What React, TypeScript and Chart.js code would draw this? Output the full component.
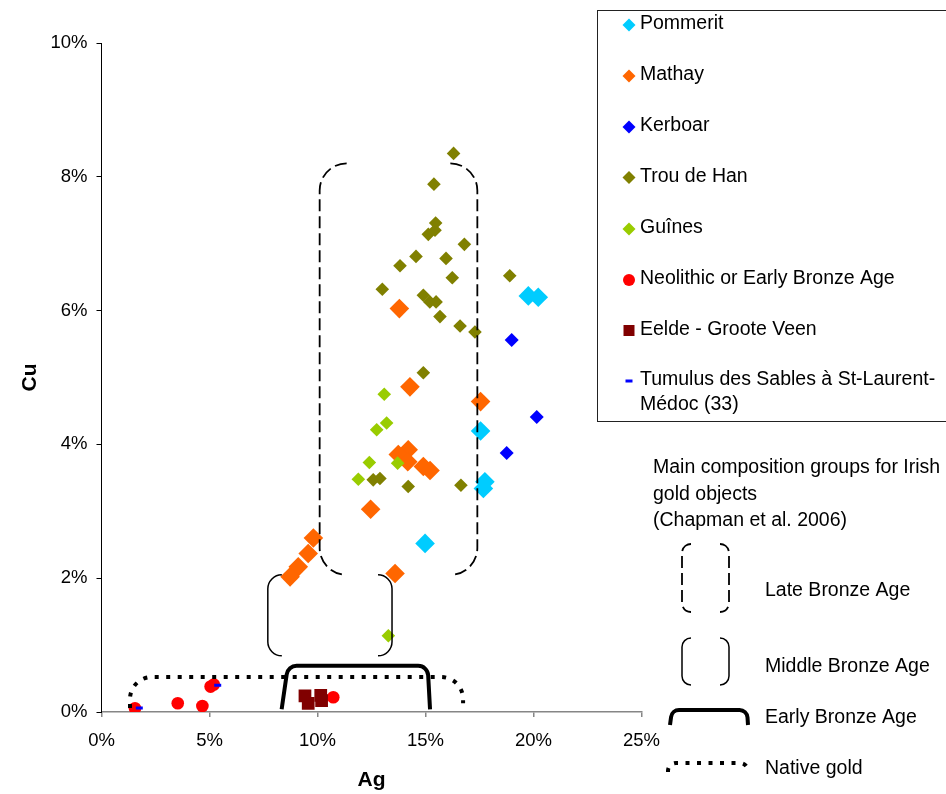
import React, { useEffect, useRef } from "react";
import { Chart, registerables } from "chart.js";

Chart.register(...registerables);

// ---------- data: [Ag %, Cu %] ----------
const pommerit = [[19.76, 6.22], [20.22, 6.2], [17.55, 4.2], [17.75, 3.44], [17.68, 3.34], [14.98, 2.52]];
const mathay = [
  [13.79, 6.03], [14.28, 4.86], [17.55, 4.64], [14.2, 3.92], [13.74, 3.85], [14.18, 3.74], [14.9, 3.67],
  [15.21, 3.61], [12.46, 3.03], [9.81, 2.6], [9.57, 2.37], [9.11, 2.17], [8.73, 2.02], [13.59, 2.07],
];
const kerboar = [[18.99, 5.56], [20.15, 4.41], [18.76, 3.87]];
const trouDeHan = [
  [16.3, 8.35], [15.39, 7.89], [15.47, 7.31], [15.44, 7.2], [15.13, 7.14], [16.8, 6.99], [14.56, 6.81],
  [15.95, 6.78], [13.82, 6.67], [16.24, 6.49], [18.9, 6.52], [13.0, 6.32], [14.9, 6.23], [15.2, 6.13],
  [15.49, 6.13], [15.67, 5.91], [16.6, 5.77], [17.29, 5.68], [14.9, 5.07], [12.58, 3.47], [12.89, 3.49],
  [14.2, 3.37], [16.64, 3.39],
];
const guines = [[13.09, 4.75], [13.2, 4.32], [12.74, 4.22], [12.4, 3.73], [13.71, 3.72], [11.89, 3.48], [13.28, 1.14]];
const neolithic = [[1.55, 0.055], [3.53, 0.13], [4.67, 0.09], [5.2, 0.41], [5.05, 0.38], [10.73, 0.22]];
const eelde = [[9.42, 0.24], [9.57, 0.13], [10.15, 0.25], [10.19, 0.17]];
const tumulus = [[1.75, 0.06], [5.38, 0.4]];

const seriesData = [pommerit, mathay, kerboar, trouDeHan, guines, neolithic, eelde, tumulus];
const seriesNames = [
  "Pommerit",
  "Mathay",
  "Kerboar",
  "Trou de Han",
  "Guînes",
  "Neolithic or Early Bronze Age",
  "Eelde - Groote Veen",
  "Tumulus des Sables à St-Laurent-Médoc (33)",
];
const seriesColors = ["#00CCFF", "#FF6600", "#0000FF", "#808000", "#99CC00", "#FF0000", "#800000", "#0000FF"];
const seriesShapes = ["rectRot", "rectRot", "rectRot", "rectRot", "rectRot", "circle", "rect", "line"];
const seriesRadius = [9.8, 9.8, 7, 6.8, 6.8, 6.3, 9, 3.5];

// axis ticks
const xTickValues = [0, 5, 10, 15, 20, 25];
const yTickValues = [0, 2, 4, 6, 8, 10];

// Irish gold composition groups (Chapman et al. 2006), in data units [Ag %, Cu %]
const lateBronzeBox = [10.1, 17.4, 2.05, 8.2]; // xMin, xMax, yMin, yMax
const middleBronzeBox = [7.7, 13.45, 0.84, 2.05];
const earlyBronzeAg = [8.34, 8.63, 15.1, 15.21];
const earlyBronzeCu = [0.04, 0.69, 0.69, 0.04];
const nativeGoldAg = [1.32, 1.32, 16.74, 16.74];
const nativeGoldCu = [0.06, 0.523, 0.523, 0.13];

const groupTitle = ["Main composition groups for Irish", "gold objects", "(Chapman et al. 2006)"];
const groupNames = ["Late Bronze Age", "Middle Bronze Age", "Early Bronze Age", "Native gold"];

const FONT = '"Liberation Sans", Arial, sans-serif';

function bracketPath(ctx: CanvasRenderingContext2D, l: number, r: number, t: number, b: number, rad: number) {
  ctx.beginPath();
  ctx.moveTo(l + rad, t);
  ctx.arcTo(l, t, l, t + rad, rad);
  ctx.lineTo(l, b - rad);
  ctx.arcTo(l, b, l + rad, b, rad);
  ctx.moveTo(r - rad, t);
  ctx.arcTo(r, t, r, t + rad, rad);
  ctx.lineTo(r, b - rad);
  ctx.arcTo(r, b, r - rad, b, rad);
  ctx.stroke();
}

function capPath(ctx: CanvasRenderingContext2D, xs: number[], ys: number[], rad: number) {
  ctx.beginPath();
  ctx.moveTo(xs[0], ys[0]);
  ctx.arcTo(xs[1], ys[1], xs[2], ys[2], rad);
  ctx.arcTo(xs[2], ys[2], xs[3], ys[3], rad);
  ctx.lineTo(xs[3], ys[3]);
  ctx.stroke();
}

function setLate(ctx: CanvasRenderingContext2D) {
  ctx.strokeStyle = "#000";
  ctx.lineWidth = 1.8;
  ctx.setLineDash([12, 5]);
  ctx.lineCap = "butt";
}
function setMiddle(ctx: CanvasRenderingContext2D) {
  ctx.strokeStyle = "#000";
  ctx.lineWidth = 1.5;
  ctx.setLineDash([]);
  ctx.lineCap = "butt";
}
function setEarly(ctx: CanvasRenderingContext2D) {
  ctx.strokeStyle = "#000";
  ctx.lineWidth = 4;
  ctx.setLineDash([]);
  ctx.lineCap = "butt";
}
function setNative(ctx: CanvasRenderingContext2D) {
  ctx.strokeStyle = "#000";
  ctx.lineWidth = 4;
  ctx.setLineDash([4, 7.5]);
  ctx.lineCap = "butt";
}

const groupsPlugin = {
  id: "irishGroups",
  afterDatasetsDraw(chart: any) {
    const ctx: CanvasRenderingContext2D = chart.ctx;
    const sx = chart.scales.x;
    const sy = chart.scales.y;
    const px = (v: number) => sx.getPixelForValue(v);
    const py = (v: number) => sy.getPixelForValue(v);
    ctx.save();
    setLate(ctx);
    bracketPath(ctx, px(lateBronzeBox[0]), px(lateBronzeBox[1]), py(lateBronzeBox[3]), py(lateBronzeBox[2]), 27);
    setMiddle(ctx);
    bracketPath(ctx, px(middleBronzeBox[0]), px(middleBronzeBox[1]), py(middleBronzeBox[3]), py(middleBronzeBox[2]), 14);
    setEarly(ctx);
    capPath(ctx, earlyBronzeAg.map(px), earlyBronzeCu.map(py), 10);
    setNative(ctx);
    capPath(ctx, nativeGoldAg.map(px), nativeGoldCu.map(py), 22);
    ctx.restore();
  },
};

function drawMarker(ctx: CanvasRenderingContext2D, shape: string, color: string, x: number, y: number) {
  ctx.save();
  ctx.fillStyle = color;
  ctx.strokeStyle = color;
  ctx.setLineDash([]);
  ctx.beginPath();
  if (shape === "rectRot") {
    const r = 6.5;
    ctx.moveTo(x - r, y);
    ctx.lineTo(x, y - r);
    ctx.lineTo(x + r, y);
    ctx.lineTo(x, y + r);
    ctx.closePath();
    ctx.fill();
  } else if (shape === "circle") {
    ctx.arc(x, y, 6, 0, Math.PI * 2);
    ctx.fill();
  } else if (shape === "rect") {
    ctx.rect(x - 5.5, y - 5.5, 11, 11);
    ctx.fill();
  } else {
    ctx.lineWidth = 3;
    ctx.moveTo(x - 3.5, y);
    ctx.lineTo(x + 3.5, y);
    ctx.stroke();
  }
  ctx.restore();
}

const legendRowsY = [24, 75, 126, 176.5, 228, 279, 329.5, 380];

const legendPlugin = {
  id: "customLegend",
  afterDraw(chart: any) {
    const ctx: CanvasRenderingContext2D = chart.ctx;
    ctx.save();
    // legend box
    ctx.fillStyle = "#fff";
    ctx.fillRect(597.5, 10.5, 360, 411);
    ctx.strokeStyle = "#222";
    ctx.lineWidth = 1;
    ctx.setLineDash([]);
    ctx.strokeRect(597.5, 10.5, 360, 411);

    ctx.font = `19.5px ${FONT}`;
    ctx.fillStyle = "#000";
    ctx.textBaseline = "middle";
    ctx.textAlign = "left";
    seriesNames.forEach((name, i) => {
      const y = legendRowsY[i];
      drawMarker(ctx, seriesShapes[i], seriesColors[i], 629, y + 1);
      ctx.fillStyle = "#000";
      if (i === 7) {
        ctx.fillText("Tumulus des Sables à St-Laurent-", 640, y);
        ctx.fillText("Médoc (33)", 640, y + 25);
      } else {
        ctx.fillText(name, 640, y);
      }
    });

    // composition groups panel
    ctx.fillStyle = "#000";
    ctx.fillText(groupTitle[0], 653, 468);
    ctx.fillText(groupTitle[1], 653, 495);
    ctx.fillText(groupTitle[2], 653, 521);
    ctx.fillText(groupNames[0], 765, 591);
    ctx.fillText(groupNames[1], 765, 667);
    ctx.fillText(groupNames[2], 765, 718);
    ctx.fillText(groupNames[3], 765, 769);

    setLate(ctx);
    bracketPath(ctx, 682, 729, 544, 612, 9);
    setMiddle(ctx);
    bracketPath(ctx, 682, 729, 638, 685, 9);
    setEarly(ctx);
    capPath(ctx, [670, 672, 747, 748], [725, 710, 710, 725], 8);
    setNative(ctx);
    capPath(ctx, [668, 668, 748, 748], [772, 763, 763, 771], 8);
    ctx.restore();
  },
};

export default function App() {
  const canvasRef = useRef<HTMLCanvasElement | null>(null);

  useEffect(() => {
    const canvas = canvasRef.current;
    if (!canvas) return;
    const datasets = seriesData.map((pts, i) => ({
      label: seriesNames[i],
      data: pts.map(([x, y]) => ({ x, y })),
      pointStyle: seriesShapes[i] as any,
      pointRadius: seriesRadius[i],
      pointHoverRadius: seriesRadius[i],
      backgroundColor: seriesColors[i],
      borderColor: seriesColors[i],
      borderWidth: seriesShapes[i] === "line" ? 3 : 0,
      pointBorderWidth: seriesShapes[i] === "line" ? 3 : 0,
      showLine: false,
      order: seriesData.length - i,
    }));

    const tickFont = { family: FONT, size: 18.5 };
    const titleFont = { family: FONT, size: 21, weight: "bold" as const, lineHeight: 1.2 };

    const chart = new Chart(canvas, {
      type: "scatter",
      data: { datasets },
      options: {
        animation: false,
        responsive: false,
        maintainAspectRatio: false,
        devicePixelRatio: 1,
        layout: { padding: { left: 0, top: 43, right: 304.5, bottom: 0 } },
        plugins: { legend: { display: false }, tooltip: { enabled: false } },
        scales: {
          x: {
            type: "linear",
            min: 0,
            max: 25,
            afterBuildTicks: (s: any) => {
              s.ticks = xTickValues.map((v) => ({ value: v }));
            },
            afterFit: (s: any) => {
              s.height = 82;
            },
            ticks: {
              callback: (v: any) => v + "%",
              font: tickFont,
              color: "#000",
              padding: 13,
              maxRotation: 0,
              autoSkip: false,
            },
            grid: { drawOnChartArea: false, drawTicks: true, tickLength: 5, color: "#868686", lineWidth: 1.5 },
            border: { color: "#868686", width: 1.5 },
            title: { display: true, text: "Ag", font: titleFont, color: "#000", padding: { top: 0, bottom: 1 } },
          },
          y: {
            type: "linear",
            min: 0,
            max: 10,
            afterBuildTicks: (s: any) => {
              s.ticks = yTickValues.map((v) => ({ value: v }));
            },
            afterFit: (s: any) => {
              s.width = 101.5;
            },
            ticks: {
              callback: (v: any) => v + "%",
              font: tickFont,
              color: "#000",
              padding: 9,
              autoSkip: false,
            },
            grid: { drawOnChartArea: false, drawTicks: true, tickLength: 5, color: "#000", lineWidth: 1 },
            border: { color: "#000", width: 1 },
            title: { display: true, text: "Cu", font: titleFont, color: "#000", padding: { top: 18, bottom: 0 } },
          },
        },
      },
      plugins: [groupsPlugin, legendPlugin],
    });

    return () => {
      chart.destroy();
    };
  }, []);

  return (
    <div style={{ position: "absolute", left: 0, top: 0, width: 946, height: 794, background: "#fff" }}>
      <canvas ref={canvasRef} width={946} height={794} style={{ display: "block", width: 946, height: 794 }} />
    </div>
  );
}
